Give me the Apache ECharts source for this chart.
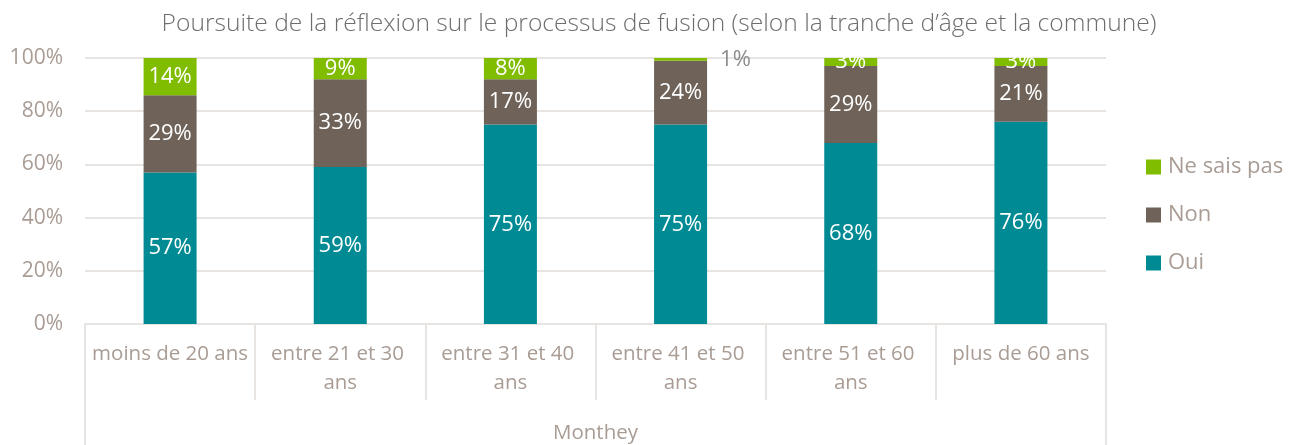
<!DOCTYPE html>
<html>
<head>
<meta charset="utf-8">
<script src="https://cdn.jsdelivr.net/npm/echarts@6/dist/echarts.min.js"></script>
<style>
  html, body { margin: 0; padding: 0; background: #fff; }
  #chart { width: 1303px; height: 445px; }
</style>
</head>
<body>
<div id="chart"></div>
<script>
const categories = ['moins de 20 ans', 'entre 21 et 30 ans', 'entre 31 et 40 ans', 'entre 41 et 50 ans', 'entre 51 et 60 ans', 'plus de 60 ans'];
const groupLabels = ['Monthey'];
const oui = [57, 59, 75, 75, 68, 76];
const non = [29, 33, 17, 24, 29, 21];
const nsp = [14, 9, 8, 1, 3, 3];

const textColor = '#A89C94';
const gridColor = '#E8E4E1';
const font = 'Open Sans';

const chart = echarts.init(document.getElementById('chart'));

const labelInside = {
  show: true,
  position: 'inside',
  color: '#fff',
  fontSize: 22,
  fontFamily: font,
  formatter: p => p.value + '%'
};

// tiny segment: label sits outside on the right, in grey
const nspData = nsp.map(v => v < 2 ? {
  value: v,
  label: {position: 'right', distance: 13, color: '#8C8C8C', offset: [0, 0]}
} : v);

const option = {
  animation: false,
  title: {
    text: 'Poursuite de la réflexion sur le processus de fusion (selon la tranche d’âge et la commune)',
    left: 654,
    textAlign: 'center',
    top: 6,
    textStyle: {color: '#6E6E6E', fontSize: 24.6, fontWeight: 300, fontFamily: font}
  },
  legend: {
    orient: 'vertical',
    left: 1141,
    top: 147,
    itemWidth: 15,
    itemHeight: 15,
    itemGap: 18,
    icon: 'rect',
    data: ['Ne sais pas', 'Non', 'Oui'],
    textStyle: {color: textColor, fontSize: 22, fontFamily: font, padding: [0, 0, 0, 2], lineHeight: 30}
  },
  grid: {left: 85, right: 197, top: 58, bottom: 121},
  xAxis: [
    {
      type: 'category',
      data: categories,
      axisLine: {lineStyle: {color: gridColor, width: 2}},
      axisTick: {show: true, length: 76, lineStyle: {color: gridColor, width: 2}},
      axisLabel: {
        color: textColor, fontSize: 20.5, fontFamily: font, margin: 16,
        width: 166, overflow: 'break', lineHeight: 29, interval: 0
      }
    },
    {
      type: 'category',
      position: 'bottom',
      data: groupLabels,
      axisLine: {show: false},
      axisTick: {show: true, length: 121, lineStyle: {color: gridColor, width: 2}},
      axisLabel: {color: textColor, fontSize: 20.5, fontFamily: font, margin: 99}
    }
  ],
  yAxis: {
    type: 'value',
    min: 0,
    max: 100,
    interval: 20,
    axisLabel: {color: textColor, fontSize: 21, fontFamily: font, formatter: '{value}%', margin: 22},
    axisLine: {show: false},
    axisTick: {show: false},
    splitLine: {lineStyle: {color: gridColor, width: 2}}
  },
  series: [
    {name: 'Oui', type: 'bar', stack: 'a', barWidth: 53, data: oui, itemStyle: {color: '#008A94'}, label: labelInside},
    {name: 'Non', type: 'bar', stack: 'a', barWidth: 53, data: non, itemStyle: {color: '#6E6259'}, label: labelInside},
    {name: 'Ne sais pas', type: 'bar', stack: 'a', barWidth: 53, data: nspData, itemStyle: {color: '#80BC00'}, label: labelInside}
  ]
};

chart.setOption(option);
</script>
</body>
</html>
